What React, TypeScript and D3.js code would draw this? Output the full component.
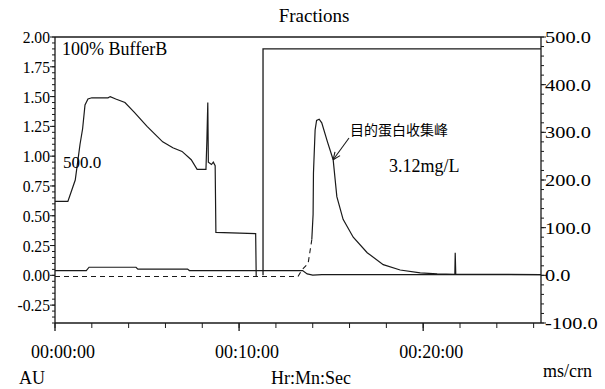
import React from 'react';
import * as d3 from 'd3';

// UV absorbance (AU), [minutes, AU]
const uvLoad: [number, number][] = [
  [0, 0.62], [0.7, 0.62], [1.1, 0.8], [1.36, 1.1], [1.5, 1.23], [1.63, 1.43],
  [1.79, 1.48], [2.0, 1.49], [2.88, 1.49], [3.0, 1.5], [3.3, 1.48], [3.8, 1.45],
  [4.3, 1.37], [5.0, 1.25], [5.85, 1.12], [6.4, 1.07], [6.9, 1.04], [7.4, 0.97],
  [7.72, 0.89], [8.2, 0.89], [8.25, 1.13], [8.3, 1.45], [8.33, 0.95], [8.5, 0.93],
  [8.6, 0.95], [8.7, 0.92], [8.74, 0.36], [10.9, 0.35], [10.93, -0.01],
];
const uvBaseline: [number, number][] = [
  [0, -0.01], [13.2, -0.01], [13.41, 0.045], [13.75, 0.1], [13.95, 0.3],
];
const uvPeak: [number, number][] = [
  [13.95, 0.3], [14.02, 0.51], [14.04, 0.86], [14.13, 1.22], [14.21, 1.3],
  [14.35, 1.31], [14.49, 1.28], [14.8, 1.12], [15.11, 0.97], [15.22, 0.8],
  [15.31, 0.66], [15.65, 0.47], [16.2, 0.32], [16.96, 0.19], [17.83, 0.09],
  [18.75, 0.045], [19.84, 0.02], [20.76, 0.012], [21.72, 0.008], [21.74, 0.19],
  [21.77, 0.01], [26.4, 0.006],
];
// conductivity, ms/cm (right axis)
const conductivity: [number, number][] = [
  [0, 10], [1.7, 10], [1.85, 17], [4.4, 17], [4.5, 13], [7.2, 13], [7.3, 10],
  [13.45, 10], [13.7, 3], [14.0, 0.5], [14.5, 1.5], [26.4, 1.5],
];
// buffer B, %
const bufferB: [number, number][] = [[11.3, 0], [11.3, 100], [26.4, 100]];

const leftTicks = [2.0, 1.75, 1.5, 1.25, 1.0, 0.75, 0.5, 0.25, 0.0, -0.25];
const rightTicks = [500, 400, 300, 200, 100, 0, -100];
const timeTicks = [0, 10, 20];
const timeLabels = ['00:00:00', '00:10:00', '00:20:00'];

const W = 605;
const H = 389;
const m = { left: 55, right: 64, top: 37, bottom: 66 };
const font = 'Liberation Serif, DejaVu Serif, serif';
const serif = { fontFamily: font };

const App = () => {
  const x = d3.scaleLinear().domain([0, 26.4]).range([m.left, W - m.right]);
  const yL = d3.scaleLinear().domain([-0.4, 2.0]).range([H - m.bottom, m.top]);
  const yR = d3.scaleLinear().domain([-100, 500]).range([H - m.bottom, m.top]);
  const yB = d3.scaleLinear().domain([0, 100]).range([yR(0), yR(475)]);

  const lineL = d3.line<[number, number]>().x((d) => x(d[0])).y((d) => yL(d[1]));
  const lineR = d3.line<[number, number]>().x((d) => x(d[0])).y((d) => yR(d[1]));
  const lineB = d3.line<[number, number]>().x((d) => x(d[0])).y((d) => yB(d[1]));

  const x0 = m.left;
  const x1 = W - m.right;
  const y0 = m.top;
  const y1 = H - m.bottom;

  const minorL = d3.range(-0.4, 2.0001, 0.05);
  const minorR = d3.range(-100, 500.001, 20);
  const minorX = d3.range(0, 26.4, 2);

  // arrow pointing at the peak
  const tip: [number, number] = [x(15.11), yL(0.97)];
  const tail: [number, number] = [349, 138];
  const ang = Math.atan2(tail[1] - tip[1], tail[0] - tip[0]);
  const head = (a: number) => [tip[0] + 8 * Math.cos(ang + a), tip[1] + 8 * Math.sin(ang + a)];
  const h1 = head(0.4);
  const h2 = head(-0.4);

  const stroke = '#1a1a1a';

  return (
    <svg width={W} height={H} style={{ position: 'absolute', left: 0, top: 0, background: '#fff' }}>
      <rect width={W} height={H} fill="#fff" />
      <text x={314} y={22} textAnchor="middle" style={serif} fontSize={19}>Fractions</text>

      {/* frame */}
      <line x1={x0} x2={x1} y1={y0} y2={y0} stroke={stroke} strokeWidth={1.3} />
      <line x1={x0} x2={x1} y1={y1} y2={y1} stroke={stroke} strokeWidth={1.3} />
      <line x1={x0} x2={x0} y1={y0} y2={y1} stroke={stroke} strokeWidth={1.3} />
      <line x1={x1} x2={x1} y1={y0} y2={y1} stroke={stroke} strokeWidth={1.3} />

      {/* left axis */}
      {minorL.map((v, i) => (
        <line key={'ml' + i} x1={x0 - 3} x2={x0} y1={yL(v)} y2={yL(v)} stroke={stroke} />
      ))}
      {leftTicks.map((v) => (
        <g key={'l' + v}>
          <line x1={x0 - 5} x2={x0} y1={yL(v)} y2={yL(v)} stroke={stroke} />
          <text x={x0 - 5} y={yL(v) + 6} textAnchor="end" style={serif} fontSize={17}
            transform={`translate(${x0 - 5},0) scale(0.92,1) translate(${-(x0 - 5)},0)`}>
            {v.toFixed(2)}
          </text>
        </g>
      ))}

      {/* right axis */}
      {minorR.map((v, i) => (
        <line key={'mr' + i} x1={x1} x2={x1 + 3} y1={yR(v)} y2={yR(v)} stroke={stroke} />
      ))}
      {rightTicks.map((v) => (
        <g key={'r' + v}>
          <line x1={x1} x2={x1 + 5} y1={yR(v)} y2={yR(v)} stroke={stroke} />
          <text x={x1 + 4} y={yR(v) + 6} style={serif} fontSize={17}
            transform={`translate(${x1 + 4},0) scale(1.2,1) translate(${-(x1 + 4)},0)`}>
            {v.toFixed(1)}
          </text>
        </g>
      ))}

      {/* bottom axis */}
      {minorX.map((v) => (
        <line key={'mx' + v} x1={x(v)} x2={x(v)} y1={y1} y2={y1 + 5} stroke={stroke} />
      ))}
      {timeTicks.map((v, i) => (
        <g key={'t' + v}>
          <line x1={x(v)} x2={x(v)} y1={y1} y2={y1 + 8} stroke={stroke} strokeWidth={1.3} />
          <text x={x(v) + 8} y={358} textAnchor="middle" style={serif} fontSize={18}>
            {timeLabels[i]}
          </text>
        </g>
      ))}

      <text x={19} y={384} style={serif} fontSize={18}>AU</text>
      <text x={311} y={384} textAnchor="middle" style={serif} fontSize={18}>Hr:Mn:Sec</text>
      <text x={543} y={377} style={serif} fontSize={18}>ms/crn</text>

      {/* traces */}
      <path d={lineL(uvBaseline) ?? ''} fill="none" stroke={stroke} strokeWidth={1.1} strokeDasharray="5,4" />
      <path d={lineR(conductivity) ?? ''} fill="none" stroke={stroke} strokeWidth={1.2} />
      <path d={lineB(bufferB) ?? ''} fill="none" stroke={stroke} strokeWidth={1.3} />
      <path d={lineL(uvLoad) ?? ''} fill="none" stroke={stroke} strokeWidth={1.2} />
      <path d={lineL(uvPeak) ?? ''} fill="none" stroke={stroke} strokeWidth={1.2} />

      {/* labels inside plot */}
      <text x={62} y={55} style={serif} fontSize={18}>100% BufferB</text>
      <text x={63} y={168} style={serif} fontSize={17}>500.0</text>

      <text x={350} y={135} style={{ fontFamily: 'Noto Sans CJK SC, sans-serif' }} fontSize={14}>目的蛋白收集峰</text>
      <text x={389} y={172} style={serif} fontSize={18}>3.12mg/L</text>
      <line x1={tail[0]} y1={tail[1]} x2={tip[0]} y2={tip[1]} stroke={stroke} strokeWidth={1.1} />
      <line x1={tip[0]} y1={tip[1]} x2={h1[0]} y2={h1[1]} stroke={stroke} strokeWidth={1.1} />
      <line x1={tip[0]} y1={tip[1]} x2={h2[0]} y2={h2[1]} stroke={stroke} strokeWidth={1.1} />
    </svg>
  );
};

export default App;
